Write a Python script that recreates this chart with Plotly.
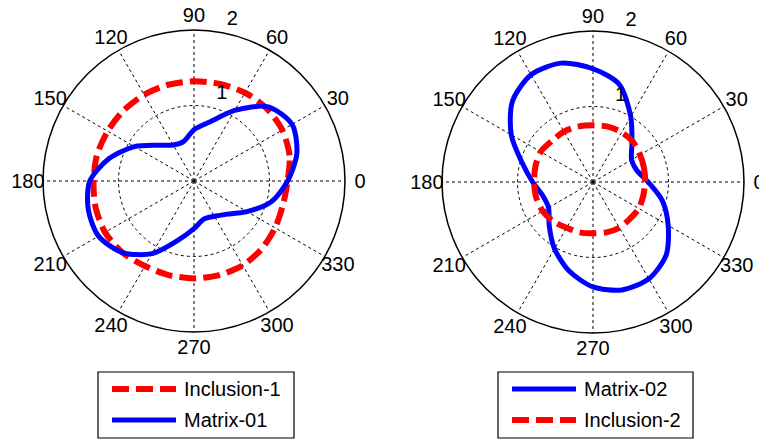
import plotly.graph_objects as go

# Angles (degrees) at which the two profiles are sampled
theta = [0, 15, 30, 45, 60, 75, 90, 105, 120, 135, 150, 165,
         180, 195, 210, 225, 240, 255, 270, 285, 300, 315, 330, 345]

# Left panel
inclusion_1 = [1.24, 1.31, 1.35, 1.36, 1.35, 1.33, 1.32, 1.32, 1.32, 1.32, 1.32, 1.33,
               1.33, 1.35, 1.36, 1.34, 1.30, 1.29, 1.29, 1.29, 1.29, 1.27, 1.24, 1.22]
matrix_01 = [1.24, 1.41, 1.50, 1.39, 1.08, 0.81, 0.68, 0.54, 0.55, 0.67, 0.91, 1.16,
             1.38, 1.45, 1.46, 1.34, 1.11, 0.81, 0.63, 0.52, 0.54, 0.62, 0.81, 1.06]

# Right panel
matrix_02 = [0.73, 0.60, 0.59, 0.73, 1.00, 1.34, 1.50, 1.63, 1.64, 1.51, 1.25, 0.97,
             0.80, 0.69, 0.68, 0.82, 1.02, 1.22, 1.39, 1.48, 1.48, 1.37, 1.15, 0.95]
inclusion_2 = [0.69, 0.70, 0.72, 0.75, 0.76, 0.76, 0.75, 0.76, 0.77, 0.77, 0.80, 0.79,
               0.78, 0.78, 0.77, 0.74, 0.70, 0.69, 0.68, 0.69, 0.70, 0.69, 0.70, 0.69]

angle_ticks = list(range(0, 360, 30))
angle_labels = [str(a) for a in angle_ticks]
ring_values = [1, 2]
ring_labels = ["1", "2"]
R_MAX = 2
LABEL_R = 1.1 * R_MAX          # angle labels are centred just outside the rim
LABEL_DROP = 2                 # small downward nudge (px) for the label layer

W, H = 759, 439
FONT = "Liberation Sans, Arial, sans-serif"
BLUE, RED = "#0000ff", "#ff0000"
DASH = "17px,7px"
W_SOLID, W_DASH = 5, 6


def closed(vals):
    return list(vals) + [vals[0]]


def px_x(x):
    return x / W


def px_y(y):
    return 1 - y / H


fig = go.Figure()

panels = [
    ("polar", "polar3", [("Inclusion-1", inclusion_1, RED, DASH, W_DASH),
                         ("Matrix-01", matrix_01, BLUE, "solid", W_SOLID)]),
    ("polar2", "polar4", [("Matrix-02", matrix_02, BLUE, "solid", W_SOLID),
                          ("Inclusion-2", inclusion_2, RED, DASH, W_DASH)]),
]

for sub, label_sub, series in panels:
    for name, vals, color, dash, lw in series:
        fig.add_trace(go.Scatterpolar(
            r=closed(vals), theta=closed(theta), mode="lines", name=name,
            line=dict(color=color, width=lw, dash=dash, shape="spline", smoothing=0.8),
            subplot=sub, showlegend=False))
    # ring value labels placed just outside each ring, near 82 degrees
    fig.add_trace(go.Scatterpolar(
        r=[v + 0.05 for v in ring_values], theta=[82] * len(ring_values),
        mode="text", text=["\u00a0\u00a0" + t for t in ring_labels],
        textposition="top right", textfont=dict(family=FONT, size=20, color="black"),
        cliponaxis=False, subplot=label_sub, showlegend=False, hoverinfo="skip"))
    # angle labels, centred on a circle 10% beyond the rim
    fig.add_trace(go.Scatterpolar(
        r=[LABEL_R] * len(angle_ticks), theta=angle_ticks,
        mode="text", text=angle_labels, textposition="middle center",
        textfont=dict(family=FONT, size=20, color="black"),
        cliponaxis=False, subplot=label_sub, showlegend=False, hoverinfo="skip"))


def polar_layout(cx, cy, rad):
    return dict(
        domain=dict(x=[px_x(cx - rad), px_x(cx + rad)], y=[px_y(cy + rad), px_y(cy - rad)]),
        bgcolor="white",
        radialaxis=dict(range=[0, R_MAX], tickmode="array", tickvals=[1], showticklabels=False,
                        ticks="", showline=False, gridcolor="black", griddash="dot", gridwidth=1),
        angularaxis=dict(rotation=0, direction="counterclockwise", tickmode="array",
                         tickvals=angle_ticks, showticklabels=False, ticks="",
                         showline=True, linecolor="black", linewidth=1.5,
                         gridcolor="black", griddash="dot", gridwidth=1),
    )


def label_layout(cx, cy, rad):
    # transparent twin of the panel with the same scale, reaching out to LABEL_R
    lrad = rad * LABEL_R / R_MAX
    cy = cy + LABEL_DROP
    return dict(
        domain=dict(x=[px_x(cx - lrad), min(1, px_x(cx + lrad))],
                    y=[px_y(cy + lrad), px_y(cy - lrad)]),
        bgcolor="rgba(0,0,0,0)",
        radialaxis=dict(range=[0, LABEL_R], visible=False),
        angularaxis=dict(rotation=0, direction="counterclockwise", visible=False),
    )


# Hand-drawn legend boxes in MATLAB style (long line samples)
shapes, annotations = [], []


def legend_box(x0, x1, y0, y1, entries):
    shapes.append(dict(type="rect", xref="paper", yref="paper",
                       x0=px_x(x0), x1=px_x(x1), y0=px_y(y1), y1=px_y(y0),
                       line=dict(color="black", width=1.2), fillcolor="white"))
    rows = [y0 + 17, y0 + 48]
    for (name, color, dash, lw), yy in zip(entries, rows):
        shapes.append(dict(type="line", xref="paper", yref="paper",
                           x0=px_x(x0 + 14), x1=px_x(x0 + 78), y0=px_y(yy), y1=px_y(yy),
                           line=dict(color=color, width=lw, dash=dash)))
        annotations.append(dict(xref="paper", yref="paper", x=px_x(x0 + 84), y=px_y(yy),
                                xanchor="left", yanchor="middle", showarrow=False,
                                text=name, font=dict(family=FONT, size=20, color="black")))


legend_box(98, 294, 372, 438, [(s[0], s[2], s[3], s[4]) for s in panels[0][2]])
legend_box(498, 693, 372, 438, [(s[0], s[2], s[3], s[4]) for s in panels[1][2]])

fig.update_layout(
    width=W, height=H,
    margin=dict(l=0, r=0, t=0, b=0),
    paper_bgcolor="white", plot_bgcolor="white",
    polar=polar_layout(194, 181, 151),
    polar2=polar_layout(593, 182, 151),
    polar3=label_layout(194, 181, 151),
    polar4=label_layout(593, 182, 151),
    shapes=shapes, annotations=annotations,
    showlegend=False,
)

fig.write_html("out.html")
